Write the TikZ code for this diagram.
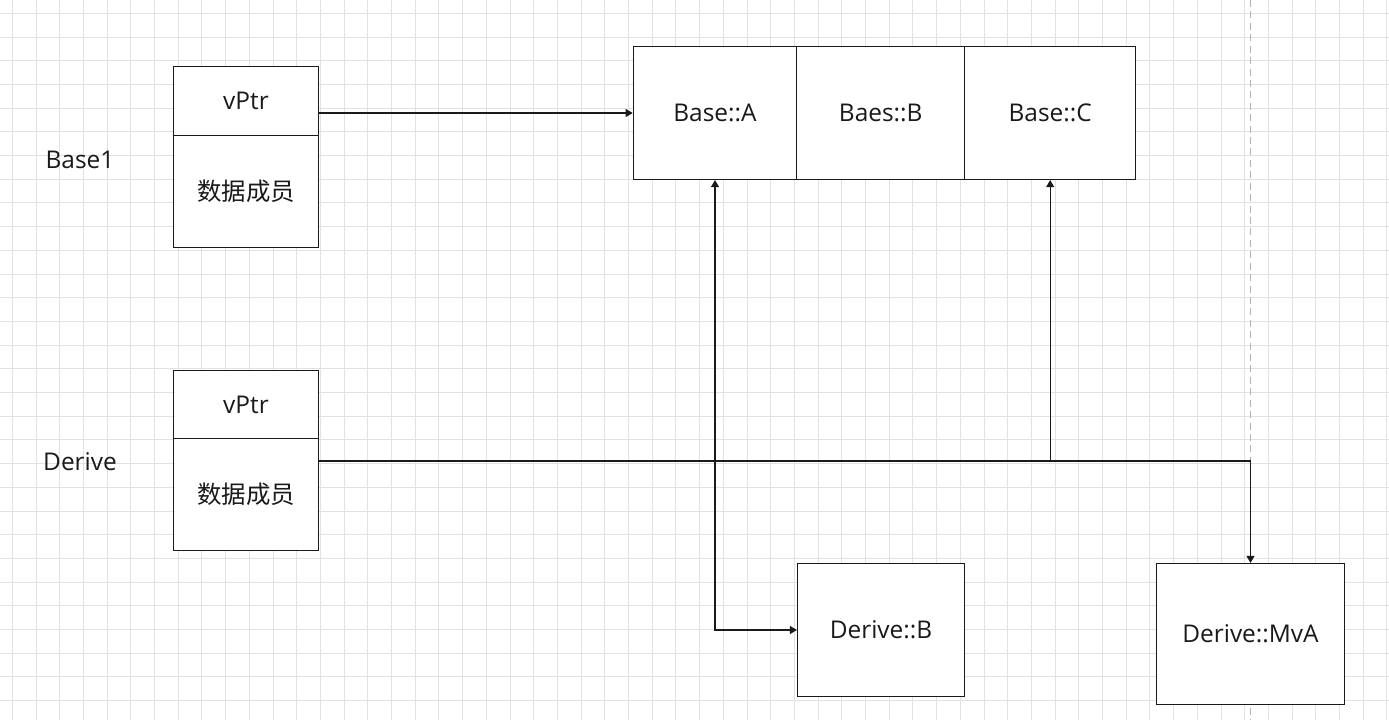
\documentclass[tikz,border=0pt]{standalone}
\usepackage{fontspec}
\setmainfont{Open Sans}
\newfontfamily\cjk{Noto Sans CJK SC}
\usepackage{xcolor}
\usetikzlibrary{arrows.meta,positioning,calc}
\definecolor{ink}{HTML}{1A1A1A}
\definecolor{gridc}{HTML}{E2E2E2}

\begin{document}
\begin{tikzpicture}[x=0.02cm, y=-0.02cm, >={Triangle[length=1.4mm,width=1.6mm]},
  font=\fontsize{13.9}{16}\selectfont, text=ink,
  cell/.style={draw=ink, line width=0.7pt, fill=white, align=center, inner sep=0pt, minimum width=#1},
  cell/.default=2.9cm,
  link/.style={draw=ink, line width=0.6pt},
  gridline/.style={draw=gridc, line width=0.5pt},
  pageline/.style={draw=gray!60, line width=0.6pt, dash pattern=on 4pt off 2.5pt}]
\useasboundingbox[fill=white] (0,0) rectangle (1389,720);
% background grid
\foreach \i in {0,...,58} \draw[gridline] ({12.3+23.7*\i},0) -- ({12.3+23.7*\i},720);
\foreach \j in {0,...,29} \draw[gridline] (0,{13.3+23.7*\j}) -- (1389,{13.3+23.7*\j});
\draw[pageline] (1250.5,0) -- (1250.5,720);
% objects
\node[cell, minimum height=1.38cm] (b1ptr) at (246,101) {vPtr};
\node[cell, minimum height=2.24cm, below=-0.7pt of b1ptr] (b1data) {\cjk 数据成员};
\node (b1lbl) at (80,160) {Base1};
\node[cell, minimum height=1.36cm] (dptr) at (246,404.5) {vPtr};
\node[cell, minimum height=2.24cm, below=-0.7pt of dptr] (ddata) {\cjk 数据成员};
\node (dlbl) at (80,462) {Derive};
% vtable
\node[cell=3.27cm, minimum height=2.66cm] (baseA) at (715,113) {Base::A};
\node[cell=3.36cm, minimum height=2.66cm, right=-0.7pt of baseA] (baesB) {Baes::B};
\node[cell=3.42cm, minimum height=2.66cm, right=-0.7pt of baesB] (baseC) {Base::C};
\node[cell=3.34cm, minimum height=2.66cm] (derB) at (881,630) {Derive::B};
\node[cell=3.76cm, minimum height=2.82cm] (derMvA) at (1250.5,634) {Derive::MvA};
\coordinate (jn) at (baseC.south |- 0,461);
% pointers
\draw[link,->] (b1ptr.east |- baseA.west) -- (baseA.west);
\draw[link,<->] (baseA.south) |- (derB.west);
\draw[link,->] (ddata.east |- jn) -- (jn) -| (derMvA.north);
\draw[link,->] (jn) -- (baseC.south);
\end{tikzpicture}
\end{document}
